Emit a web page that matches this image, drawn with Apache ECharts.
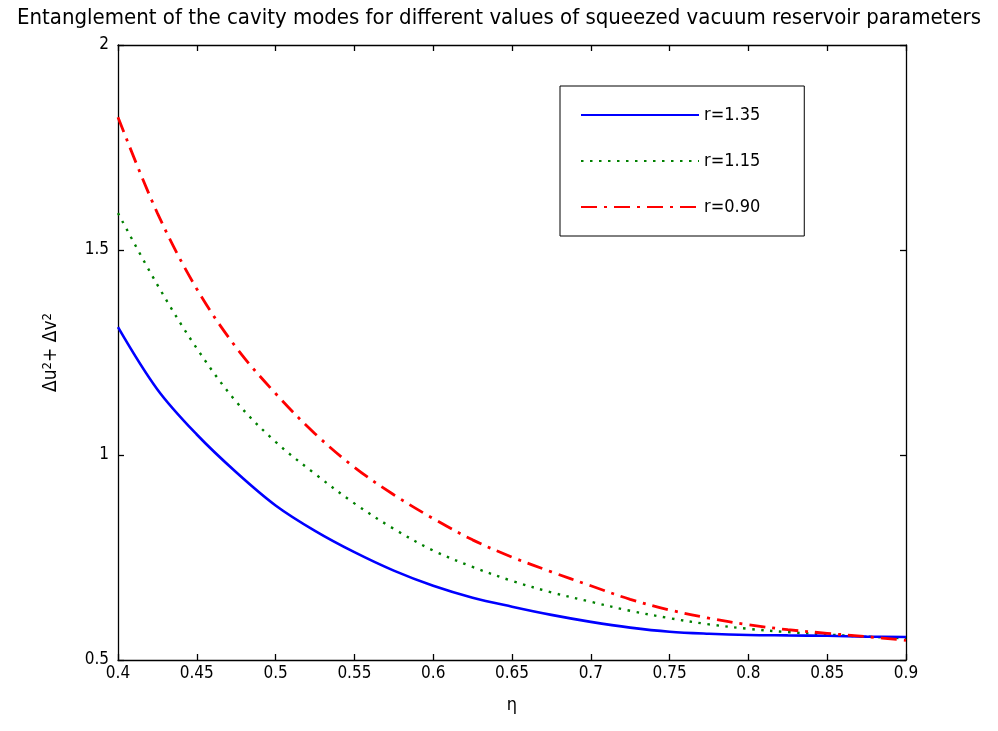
<!DOCTYPE html>
<html>
<head>
<meta charset="utf-8">
<script src="https://cdn.jsdelivr.net/npm/echarts@6/dist/echarts.min.js"></script>
<style>html,body{margin:0;padding:0;background:#fff;}#c{width:998px;height:731px;}</style>
</head>
<body>
<div id="c"></div>
<script>
const titleText = 'Entanglement of the cavity modes for different values of squeezed vacuum reservoir parameters';
const etaValues = [0.40,0.425,0.45,0.475,0.50,0.525,0.55,0.575,0.60,0.625,0.65,0.675,0.70,0.725,0.75,0.775,0.80,0.825,0.85,0.875,0.90];
const seriesNames = ['r=1.35','r=1.15','r=0.90'];
const r135 = [1.312,1.16,1.05,0.958,0.877,0.815,0.763,0.718,0.681,0.652,0.63,0.61,0.593,0.579,0.569,0.564,0.561,0.56,0.559,0.557,0.556];
const r115 = [1.59,1.415,1.26,1.13,1.032,0.954,0.882,0.82,0.767,0.727,0.693,0.665,0.642,0.62,0.602,0.587,0.576,0.568,0.562,0.557,0.553];
const r090 = [1.824,1.59,1.405,1.262,1.15,1.052,0.97,0.903,0.845,0.793,0.751,0.715,0.681,0.648,0.622,0.602,0.586,0.574,0.565,0.557,0.548];
const xTicks = ['0.4','0.45','0.5','0.55','0.6','0.65','0.7','0.75','0.8','0.85','0.9'];
const yTicks = ['0.5','1','1.5','2'];

function available(name){
  const c=document.createElement('canvas').getContext('2d');
  const s='Entanglement 0123456789 mmmwwwiii';
  c.font='40px monospace'; const a=c.measureText(s).width;
  c.font='40px "'+name+'",monospace'; const b=c.measureText(s).width;
  c.font='40px serif'; const a2=c.measureText(s).width;
  c.font='40px "'+name+'",serif'; const b2=c.measureText(s).width;
  return a!==b || a2!==b2;
}
const narrow = available('Liberation Sans Narrow');
const FONT = narrow ? '"Liberation Sans Narrow"' : '"DejaVu Sans Condensed","DejaVu Sans",sans-serif';
const titleSize = narrow ? 26 : 22;
const labelSize = narrow ? 20 : 17;

const pair = v => etaValues.map((x,i)=>[x,v[i]]);
const chart = echarts.init(document.getElementById('c'), null, {renderer:'canvas'});
const axisCommon = {
  axisLine:{show:true,onZero:false,lineStyle:{color:'#000',width:1.3}},
  axisTick:{show:true,inside:true,length:6,lineStyle:{color:'#000',width:1.3}},
  splitLine:{show:false}
};
const xMin = parseFloat(xTicks[0]), xMax = parseFloat(xTicks[xTicks.length-1]);
const yMin = parseFloat(yTicks[0]), yMax = parseFloat(yTicks[yTicks.length-1]);
chart.setOption({
  animation:false,
  backgroundColor:'#fff',
  title:{text:titleText,left:'center',top:2,textStyle:{fontFamily:FONT,fontSize:titleSize,fontWeight:'normal',color:'#000'}},
  grid:{left:118,right:92,top:45,bottom:71,containLabel:false},
  legend:{
    data:seriesNames,orient:'vertical',left:560,top:86,
    itemWidth:118,itemHeight:14,itemGap:28,padding:[20,44,20,20],
    borderColor:'#000',borderWidth:1,backgroundColor:'#fff',
    itemStyle:{opacity:0,borderWidth:0},
    textStyle:{fontFamily:FONT,fontSize:labelSize+1,color:'#000'}
  },
  xAxis:[
    Object.assign({type:'value',min:xMin,max:xMax,interval:0.05,position:'bottom',
      name:'η',nameLocation:'middle',nameGap:36,nameTextStyle:{fontFamily:FONT,fontSize:labelSize+1,color:'#000'},
      axisLabel:{color:'#000',fontFamily:FONT,fontSize:labelSize,margin:5,formatter:v=>{const s=xTicks.find(t=>Math.abs(parseFloat(t)-v)<1e-9);return s||'';}}},axisCommon),
    Object.assign({type:'value',min:xMin,max:xMax,interval:0.05,position:'top',axisLabel:{show:false}},axisCommon)
  ],
  yAxis:[
    Object.assign({type:'value',min:yMin,max:yMax,interval:0.5,position:'left',
      name:'{a|Δu}{s|2}{a|+ Δv}{s|2}',nameLocation:'middle',nameGap:56,nameRotate:90,
      nameTextStyle:{rich:{a:{fontFamily:FONT,fontSize:labelSize+2,color:'#000'},s:{fontFamily:FONT,fontSize:13,color:'#000',verticalAlign:'top',padding:[0,0,8,0]}}},
      axisLabel:{color:'#000',fontFamily:FONT,fontSize:labelSize,margin:9,formatter:v=>{const s=yTicks.find(t=>Math.abs(parseFloat(t)-v)<1e-9);return s||'';}}},axisCommon),
    Object.assign({type:'value',min:yMin,max:yMax,interval:0.5,position:'right',axisLabel:{show:false}},axisCommon)
  ],
  series:[
    {name:seriesNames[0],type:'line',data:pair(r135),smooth:0.35,showSymbol:false,symbol:'none',
     lineStyle:{color:'#0000ff',width:2.6,type:'solid'},itemStyle:{color:'#0000ff'},z:3},
    {name:seriesNames[1],type:'line',data:pair(r115),smooth:0.35,showSymbol:false,symbol:'none',
     lineStyle:{color:'#008000',width:2.4,type:[2.5,6.5]},itemStyle:{color:'#008000'},z:2},
    {name:seriesNames[2],type:'line',data:pair(r090),smooth:0.35,showSymbol:false,symbol:'none',
     lineStyle:{color:'#ff0000',width:2.8,type:[16,7,3,7]},itemStyle:{color:'#ff0000'},z:4}
  ]
});
</script>
</body>
</html>
